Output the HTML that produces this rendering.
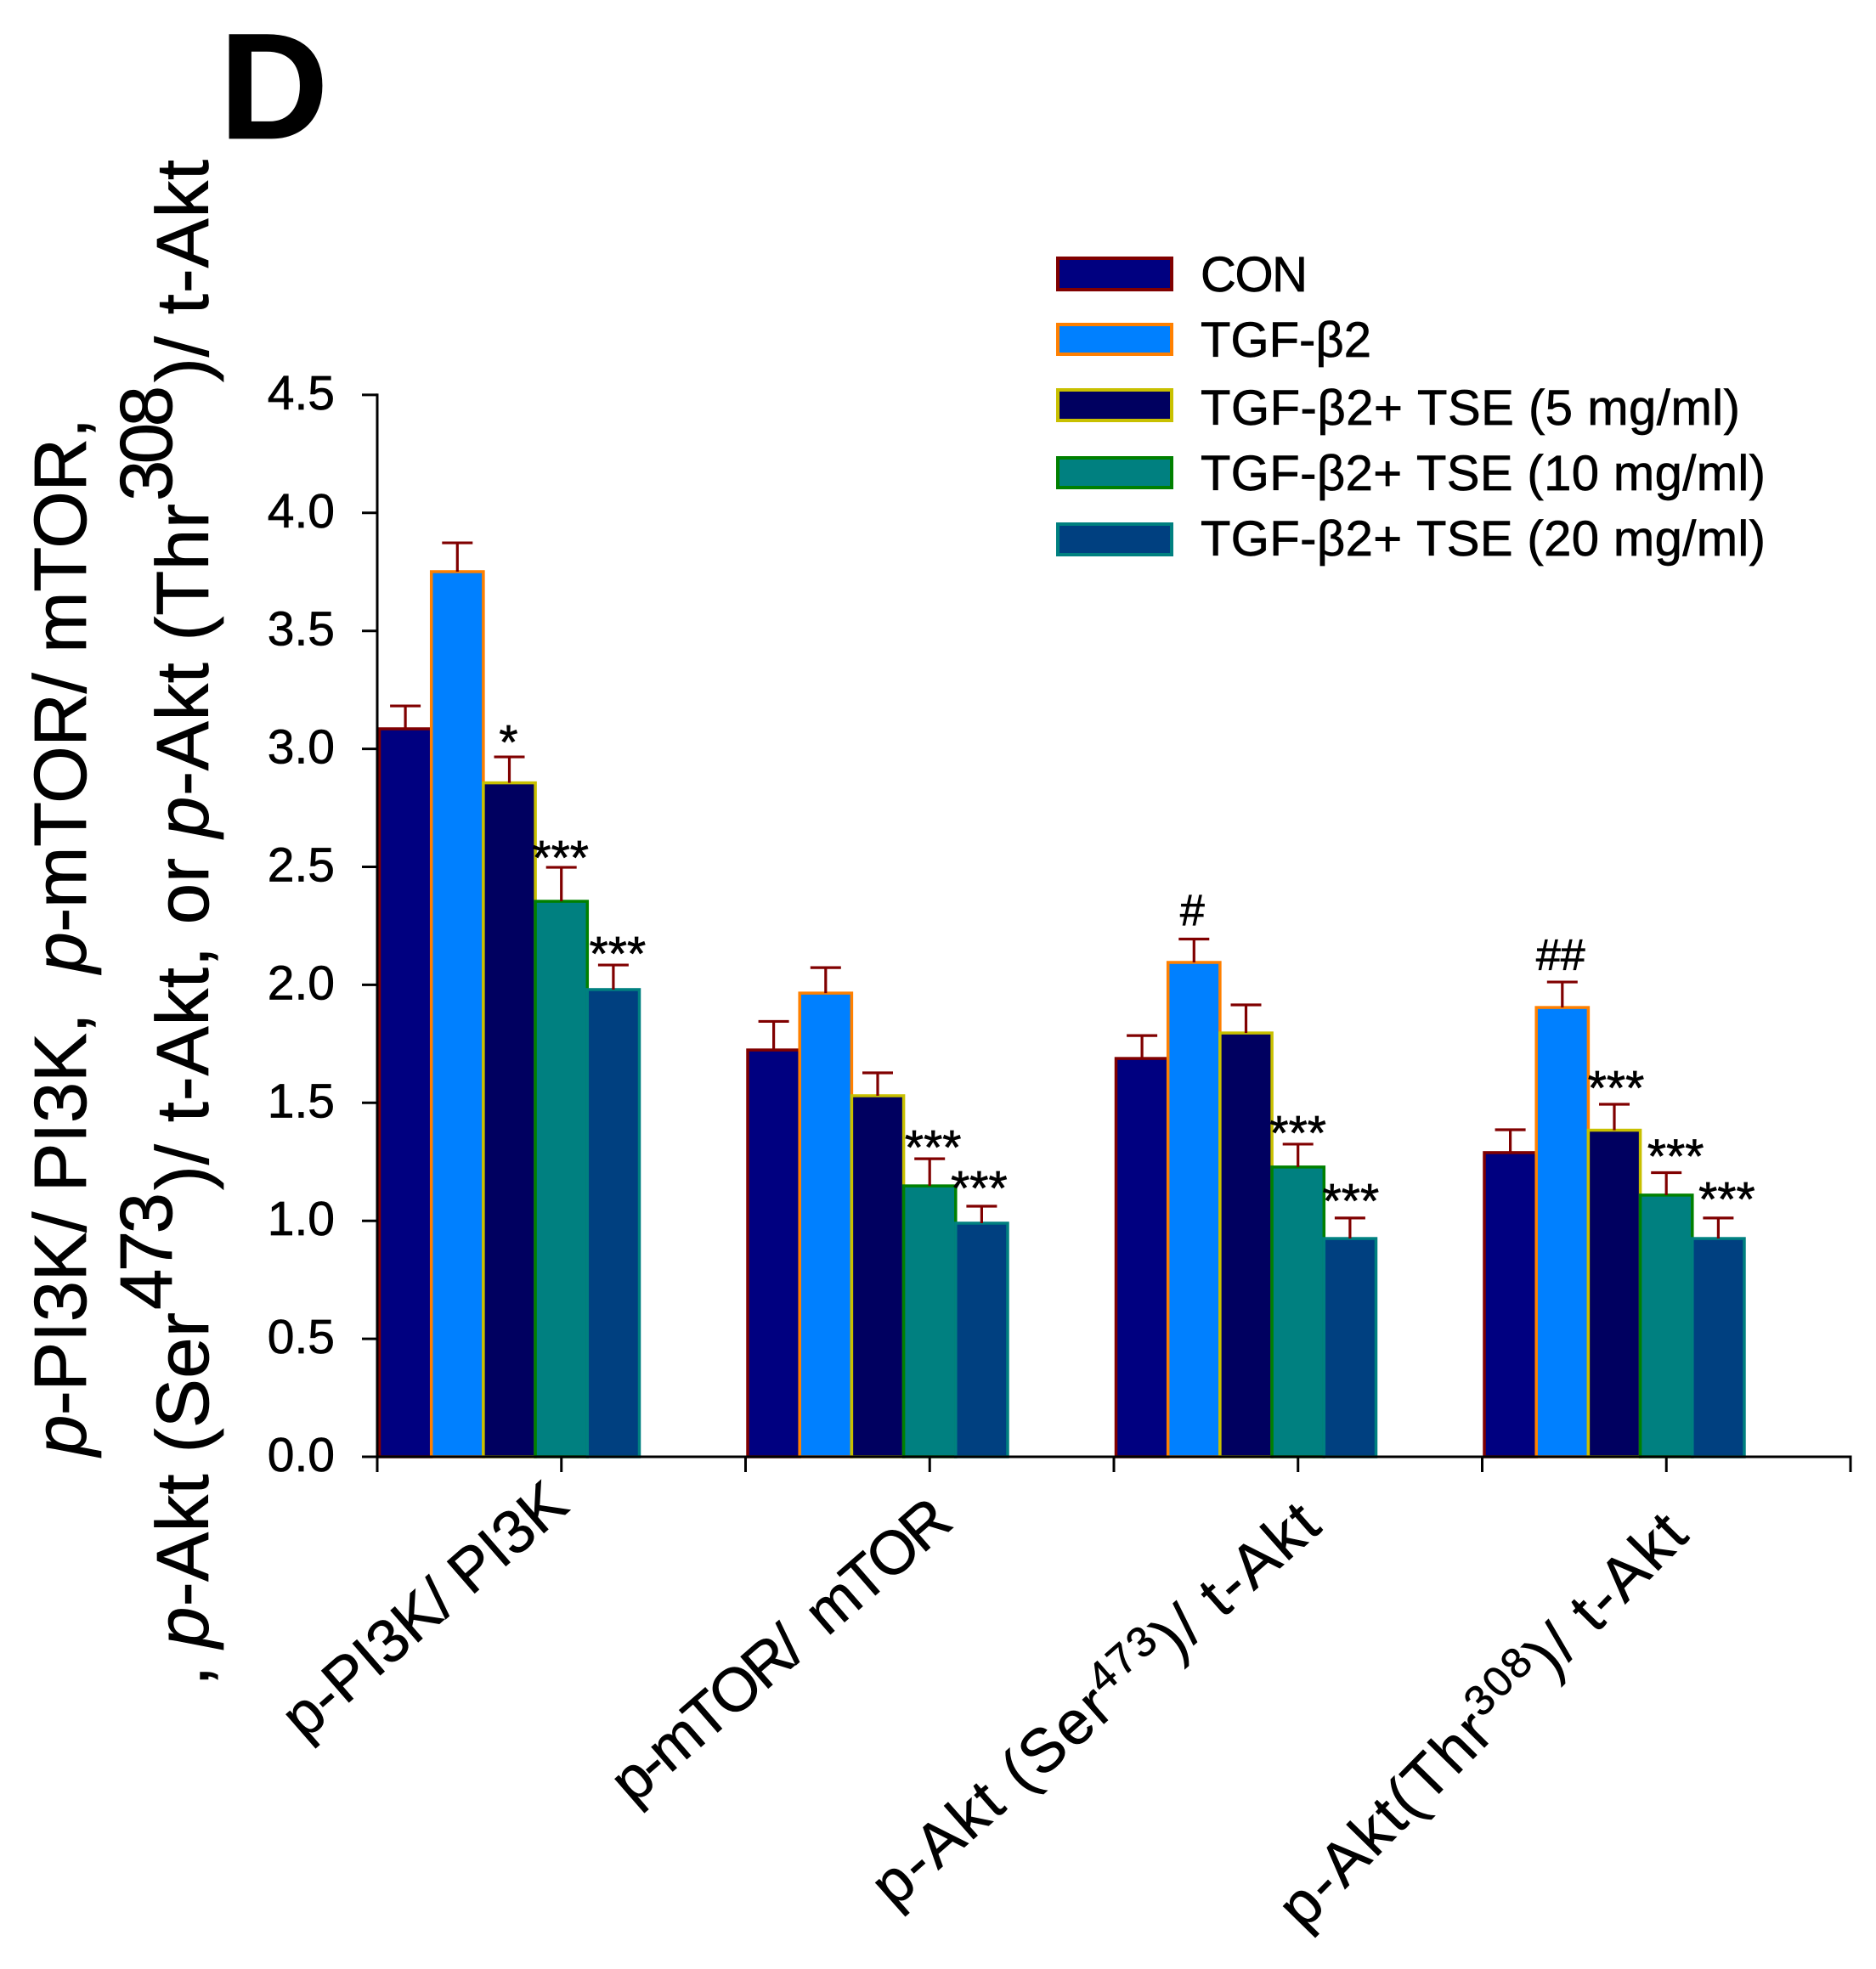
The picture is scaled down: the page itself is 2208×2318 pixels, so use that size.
<!DOCTYPE html>
<html lang="en">
<head>
<meta charset="utf-8">
<title>p-PI3K, p-mTOR and p-Akt ratios</title>
<style>
html,body{margin:0;padding:0;background:#fff;}
svg{display:block;font-family:"Liberation Sans",Arial,sans-serif;}
text{fill:#000;stroke:#000;stroke-width:0.7px;}
</style>
</head>
<body>
<svg id="chart" xmlns="http://www.w3.org/2000/svg" width="2208" height="2318" viewBox="0 0 2208 2318">
  <rect x="0" y="0" width="2208" height="2318" fill="#fff"/>
  <text x="258" y="163" font-size="178" font-weight="bold" textLength="128">D</text>

  <g font-size="87">
    <text transform="translate(101,1714) rotate(-90)" textLength="1222" xml:space="preserve"><tspan font-style="italic">p</tspan>-PI3K/ PI3K,  <tspan font-style="italic">p</tspan>-mTOR/ mTOR,</text>
    <text transform="translate(245,1985) rotate(-90)">,</text>
    <text transform="translate(245,1940) rotate(-90)" textLength="395" xml:space="preserve"><tspan font-style="italic">p</tspan>-Akt (Ser</text>
    <text transform="translate(202,1542) rotate(-90)" textLength="138">473</text>
    <text transform="translate(245,1401) rotate(-90)" textLength="391" xml:space="preserve">)/ t-Akt, or</text>
    <text transform="translate(245,986) rotate(-90)" textLength="393" xml:space="preserve"><tspan font-style="italic">p</tspan>-Akt (Thr</text>
    <text transform="translate(202,590) rotate(-90)" textLength="136">308</text>
    <text transform="translate(245,450) rotate(-90)" textLength="262" xml:space="preserve">)/ t-Akt</text>
  </g>

  <g font-size="58">
    <rect x="1245" y="304" width="134" height="37" fill="#000080" stroke="#800000" stroke-width="4"/>
    <text x="1413" y="343" textLength="126">CON</text>
    <rect x="1245" y="382" width="134" height="35" fill="#0080ff" stroke="#ff8000" stroke-width="4"/>
    <text x="1413" y="420" textLength="201">TGF-β2</text>
    <rect x="1245" y="459" width="134" height="36" fill="#000060" stroke="#c8c000" stroke-width="4"/>
    <text x="1413" y="500" textLength="635">TGF-β2+ TSE (5 mg/ml)</text>
    <rect x="1245" y="539" width="134" height="35" fill="#008080" stroke="#008000" stroke-width="4"/>
    <text x="1413" y="577" textLength="665">TGF-β2+ TSE (10 mg/ml)</text>
    <rect x="1245" y="617" width="134" height="36" fill="#004080" stroke="#008080" stroke-width="4"/>
    <text x="1413" y="654" textLength="665">TGF-β2+ TSE (20 mg/ml)</text>
  </g>

  <g font-size="72">
    <text transform="translate(358,2050) rotate(-41)" textLength="416" xml:space="preserve">p-PI3K/ PI3K</text>
    <text transform="translate(745,2126) rotate(-41)" textLength="503" xml:space="preserve">p-mTOR/  mTOR</text>
    <text transform="translate(1052,2248) rotate(-41.5)" textLength="675" xml:space="preserve">p-Akt (Ser<tspan font-size="50" dy="-26">473</tspan><tspan dy="26">)/ t-Akt</tspan></text>
    <text transform="translate(1534,2274) rotate(-45.5)" textLength="650" xml:space="preserve">p-Akt(Thr<tspan font-size="50" dy="-26">308</tspan><tspan dy="26">)/ t-Akt</tspan></text>
  </g>

  <g id="plot"></g>
</svg>

<script>
var categories = ["p-PI3K/ PI3K", "p-mTOR/ mTOR", "p-Akt (Ser473)/ t-Akt", "p-Akt(Thr308)/ t-Akt"];
var seriesNames = ["con", "tgf-b2", "tse-5", "tse-10", "tse-20"];
var seriesFills = ["#000080", "#0080ff", "#000060", "#008080", "#004080"];
var seriesStrokes = ["#800000", "#ff8000", "#c8c000", "#008000", "#008080"];

var valuesCon = [3.085, 1.724, 1.688, 1.289];
var valuesTgf = [3.751, 1.965, 2.095, 1.904];
var valuesTse5 = [2.856, 1.530, 1.796, 1.384];
var valuesTse10 = [2.354, 1.148, 1.228, 1.109];
var valuesTse20 = [1.980, 0.990, 0.925, 0.925];

var errorsCon = [0.097, 0.121, 0.097, 0.097];
var errorsTgf = [0.122, 0.108, 0.099, 0.108];
var errorsTse5 = [0.110, 0.097, 0.119, 0.110];
var errorsTse10 = [0.144, 0.115, 0.097, 0.095];
var errorsTse20 = [0.104, 0.072, 0.087, 0.087];

var marksCon = ["", "", "", ""];
var marksTgf = ["", "", "#", "##"];
var marksTse5 = ["*", "", "", "***"];
var marksTse10 = ["***", "***", "***", "***"];
var marksTse20 = ["***", "***", "***", "***"];

var yTickValues = [0, 0.5, 1, 1.5, 2, 2.5, 3, 3.5, 4, 4.5];
var yTickLabels = ["0.0", "0.5", "1.0", "1.5", "2.0", "2.5", "3.0", "3.5", "4.0", "4.5"];

var seriesValues = [valuesCon, valuesTgf, valuesTse5, valuesTse10, valuesTse20];
var seriesErrors = [errorsCon, errorsTgf, errorsTse5, errorsTse10, errorsTse20];
var seriesMarks = [marksCon, marksTgf, marksTse5, marksTse10, marksTse20];

var SVG_NS = "http://www.w3.org/2000/svg";
var plot = document.getElementById("plot");

var AXIS_X = 444;
var AXIS_Y = 1715;
var PLOT_RIGHT = 2178;
var GROUP_START = 446.5;
var GROUP_STEP = 433.5;
var BAR_WIDTH = 61.2;

/* hand-placement offsets of the significance marks, relative to their error cap */
var labelNudgeX = [[0,0,0,0],[0,0,-4,-4],[-3,0,0,0],[-3,2,-2,9],[3,-5,-1,8]];
var labelNudgeY = [[0,0,0,0],[0,0,-2,0],[0,0,0,-8],[0,-2,-2,-8],[-2,-10,-9,-11]];

function yScale(v) { return AXIS_Y - v * 277.8; }
function barLeft(g, s) { return GROUP_START + g * GROUP_STEP + s * BAR_WIDTH; }
function edgeTickX(g) { return AXIS_X + g * GROUP_STEP; }
function midTickX(g) { return AXIS_X + (g + 0.5) * GROUP_STEP; }

function make(tag, attrs) {
  var el = document.createElementNS(SVG_NS, tag);
  for (var k in attrs) { el.setAttribute(k, attrs[k]); }
  plot.appendChild(el);
  return el;
}

seriesValues.forEach(function (values, s) {
  values.forEach(function (v, g) {
    var top = yScale(v);
    var bar = make("rect", {
      x: barLeft(g, s), y: top, width: BAR_WIDTH, height: AXIS_Y - top,
      fill: seriesFills[s], stroke: seriesStrokes[s], "stroke-width": 3.5
    });
    
    
  });
});

seriesValues.forEach(function (values, s) {
  values.forEach(function (v, g) {
    var cx = barLeft(g, s) + BAR_WIDTH / 2;
    var yBase = yScale(v);
    var yTop = yScale(v + seriesErrors[s][g]);
    var stem = make("line", { x1: cx, x2: cx, y1: yBase, y2: yTop, stroke: "#800000", "stroke-width": 3.2 });
    
    
    var cap = make("line", { x1: cx - 18, x2: cx + 18, y1: yTop, y2: yTop, stroke: "#800000", "stroke-width": 3.2 });
    
    

    var sym = seriesMarks[s][g];
    if (sym) {
      var isHash = sym.charAt(0) === "#";
      var baseline = isHash ? yTop - 14 : (sym.length === 1 ? yTop + 2 : yTop + 8);
      var mark = make("text", {
        x: cx + 2 + labelNudgeX[s][g], y: baseline + labelNudgeY[s][g], "text-anchor": "middle",
        "font-size": isHash ? 52 : 57
      });
      mark.textContent = sym;
      
      
    }
  });
});

yTickValues.forEach(function (v, i) {
  var y = yScale(v);
  var tick = make("line", { x1: 426, x2: AXIS_X, y1: y, y2: y, stroke: "#000", "stroke-width": 3 });
  
  
  var label = make("text", { x: 394, y: y + 17, "text-anchor": "end", "font-size": 57 });
  label.textContent = yTickLabels[i];
  
  
});

categories.forEach(function (name, g) {
  var edge = make("line", { x1: edgeTickX(g), x2: edgeTickX(g), y1: AXIS_Y, y2: 1733, stroke: "#000", "stroke-width": 3 });
  
  
  var mid = make("line", { x1: midTickX(g), x2: midTickX(g), y1: AXIS_Y, y2: 1733, stroke: "#000", "stroke-width": 3 });
  
  
});

var lastTick = make("line", { x1: PLOT_RIGHT, x2: PLOT_RIGHT, y1: AXIS_Y, y2: 1733, stroke: "#000", "stroke-width": 3 });



var yAxis = make("line", { x1: AXIS_X, x2: AXIS_X, y1: yScale(4.5) - 1.5, y2: AXIS_Y, stroke: "#000", "stroke-width": 3 });



var xAxis = make("line", { x1: 426, x2: PLOT_RIGHT + 1.5, y1: AXIS_Y, y2: AXIS_Y, stroke: "#000", "stroke-width": 3 });


</script>
</body>
</html>
